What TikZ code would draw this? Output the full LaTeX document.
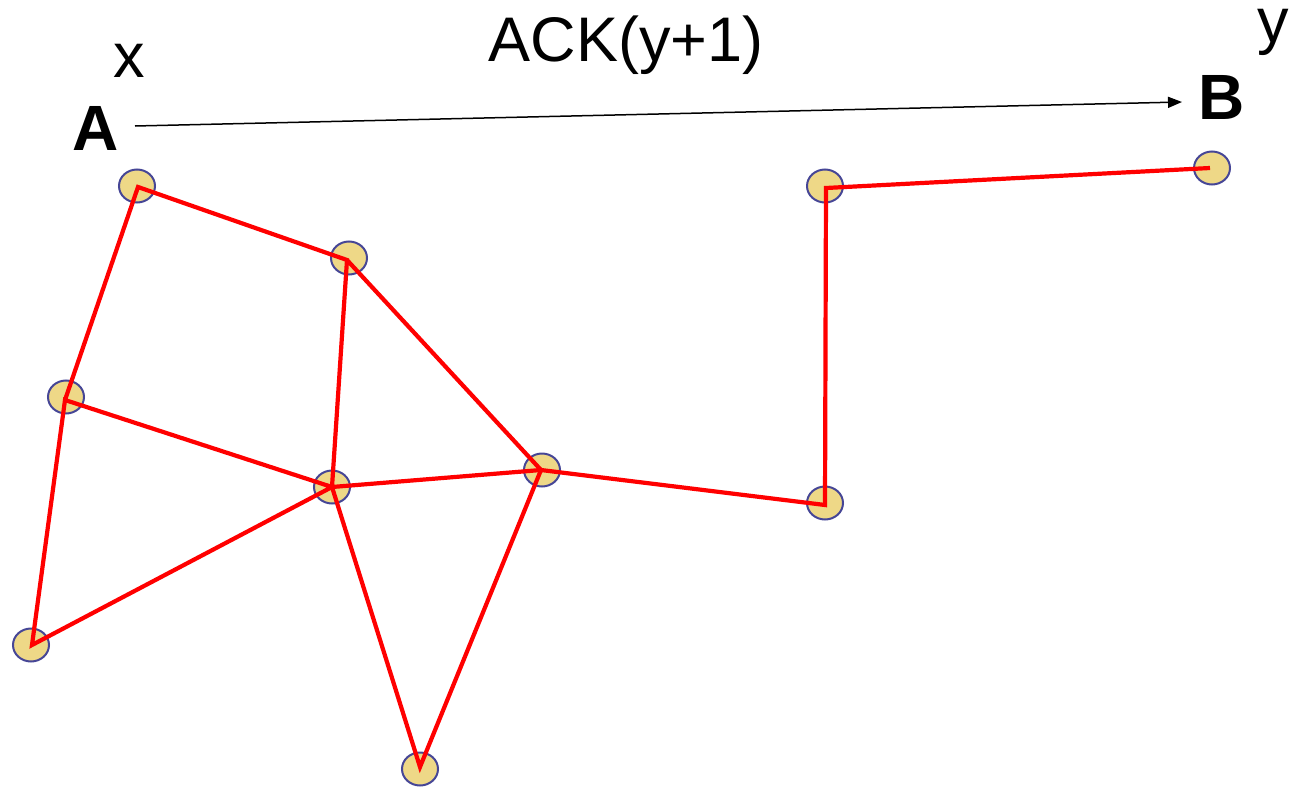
\documentclass[tikz,border=0pt]{standalone}
\usepackage{fontspec}
\setmainfont{Liberation Sans}
\usetikzlibrary{shapes.geometric,arrows.meta}
\definecolor{nodefill}{RGB}{238,216,135}
\definecolor{nodeline}{RGB}{70,70,150}
\definecolor{edgered}{RGB}{255,0,0}
\begin{document}
\begin{tikzpicture}[x=1pt,y=-1pt,
  site/.style={ellipse,draw=nodeline,line width=2pt,fill=nodefill,minimum width=36pt,minimum height=33pt,inner sep=0pt},
  link/.style={draw=edgered,line width=4.2pt,line join=miter},
  lbl/.style={font=\fontsize{63}{66}\selectfont,inner sep=0pt},
  blbl/.style={font=\fontsize{64}{68}\selectfont\bfseries,inner sep=0pt}]
\useasboundingbox (0,0) rectangle (1291,787);
\node[site] (n1) at (137,186) {};
\node[site] (n2) at (349,258) {};
\node[site] (n3) at (66,397) {};
\node[site] (n4) at (332,487) {};
\node[site] (n5) at (542,470) {};
\node[site] (n6) at (31,645) {};
\node[site] (n7) at (420,769) {};
\node[site] (n8) at (825,503) {};
\node[site] (n9) at (825,186) {};
\node[site] (n10) at (1212,168) {};
\coordinate (p1) at (138,187);
\coordinate (p2) at (347,260);
\coordinate (p3) at (65,400);
\coordinate (p4) at (332,487);
\coordinate (p5) at (541,470);
\coordinate (p6) at (32,645);
\coordinate (p7) at (420,767);
\coordinate (p8) at (825,505);
\coordinate (p9) at (826,188);
\coordinate (p10) at (1210,168);
\draw[link] (p3) -- (p1) -- (p2) -- (p4) -- (p3) -- (p6) -- (p4) -- (p5) -- (p2);
\draw[link] (p4) -- (p7) -- (p5) -- (p8) -- (p9) -- (p10);
\node[blbl] (A) at (96,128) {A};
\node[blbl] (B) at (1222,97) {B};
\node[lbl] (x) at (129,61) {x};
\node[lbl] (y) at (1273,32) {y};
\node[lbl] (ack) at (626,45) {ACK(y+1)};
\coordinate (as) at (135,126);
\coordinate (ae) at (1182,102);
\draw[line width=1.5pt,-{Triangle[length=14pt,width=11pt]}] (as) -- (ae);
\end{tikzpicture}
\end{document}
